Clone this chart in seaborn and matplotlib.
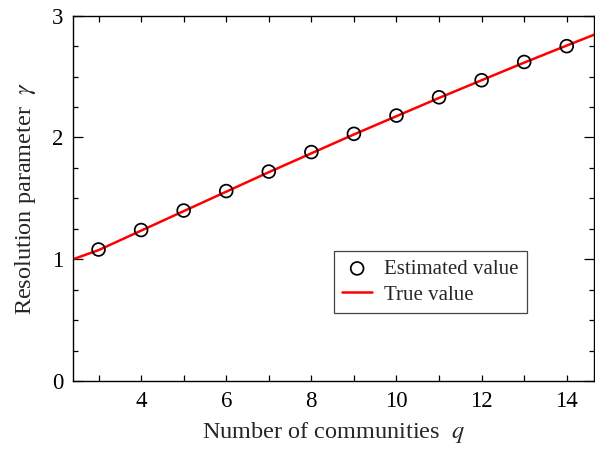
import numpy as np
import pandas as pd
import seaborn as sns
import matplotlib
matplotlib.use('Agg')
import matplotlib.pyplot as plt
from matplotlib.ticker import MultipleLocator

# estimated values
q_est = [3, 4, 5, 6, 7, 8, 9, 10, 11, 12, 13, 14]
gamma_est = [1.08, 1.24, 1.40, 1.56, 1.72, 1.88, 2.03, 2.18, 2.33, 2.47, 2.62, 2.75]

# true value curve (red line)
q_true = [2.4, 3, 4, 5, 6, 7, 8, 9, 10, 11, 12, 13, 14, 14.65]
gamma_true = [1.00, 1.075, 1.235, 1.395, 1.555, 1.715, 1.87, 2.025, 2.175, 2.325, 2.47, 2.615, 2.755, 2.845]

est_df = pd.DataFrame({'q': q_est, 'gamma': gamma_est})
true_df = pd.DataFrame({'q': q_true, 'gamma': gamma_true})

sns.set_theme(style='ticks')
plt.rcParams['font.family'] = ['Liberation Serif', 'DejaVu Serif']
plt.rcParams['mathtext.fontset'] = 'stix'

fig = plt.figure(figsize=(5.95, 4.49), dpi=100)
ax = fig.add_axes([0.1227, 0.1514, 0.8763, 0.8136])

sns.scatterplot(data=est_df, x='q', y='gamma', ax=ax, marker='o', s=85,
                facecolor='none', edgecolor='black', linewidth=1.25,
                label='Estimated value', zorder=3)
sns.lineplot(data=true_df, x='q', y='gamma', ax=ax, color='red', linewidth=1.8,
             label='True value', zorder=2)

ax.set_xlim(2.4, 14.65)
ax.set_ylim(0, 3)
ax.xaxis.set_major_locator(MultipleLocator(2))
ax.xaxis.set_minor_locator(MultipleLocator(1))
ax.yaxis.set_major_locator(MultipleLocator(1))
ax.yaxis.set_minor_locator(MultipleLocator(0.25))

ax.tick_params(which='both', direction='in', top=True, right=True, colors='black',
               labelsize=16.5, width=0.9)
ax.tick_params(axis='x', which='both', length=4)
ax.tick_params(axis='y', which='major', length=7)
ax.tick_params(axis='y', which='minor', length=3.6)
ax.tick_params(axis='x', pad=7)
ax.tick_params(axis='y', pad=7)
for sp in ax.spines.values():
    sp.set_visible(True)
    sp.set_linewidth(1.0)
    sp.set_color('black')

ax.set_xlabel(r'Number of communities  $q$', fontsize=17.5, labelpad=6)
ax.set_ylabel(r'Resolution parameter  $\gamma$', fontsize=17.5, labelpad=10)

leg = ax.legend(loc='upper left', bbox_to_anchor=(0.5, 0.356), borderaxespad=0,
                fancybox=False, framealpha=1, edgecolor='#444444', fontsize=15,
                handlelength=1.45, handletextpad=0.55, borderpad=0.4, labelspacing=0.3)
leg.get_frame().set_linewidth(0.9)

fig.savefig('out.png', dpi=100)
